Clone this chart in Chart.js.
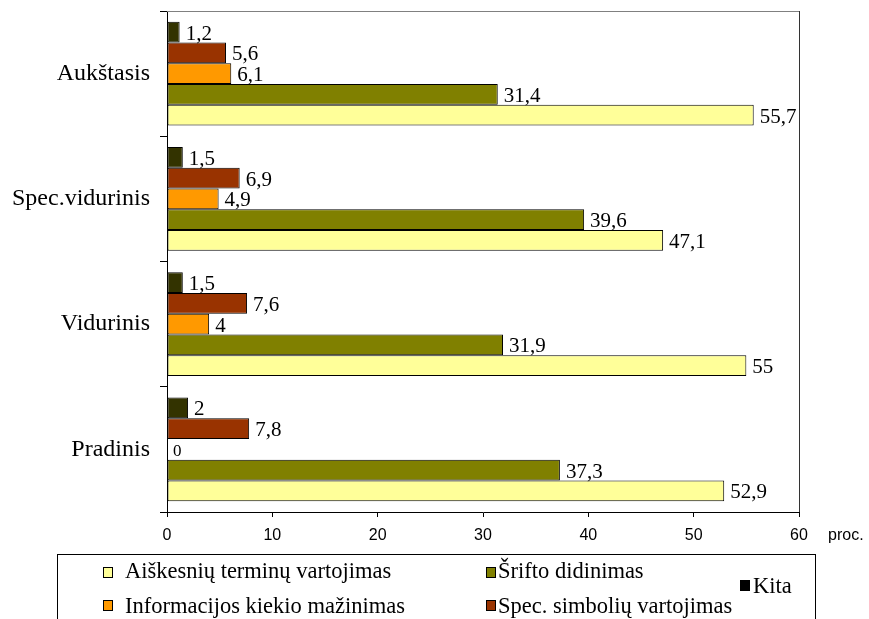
<!DOCTYPE html>
<html lang="lt">
<head>
<meta charset="utf-8">
<title>Pageidavimai pagal išsilavinimą</title>
<script src="https://cdn.jsdelivr.net/npm/chart.js@4.4.1/dist/chart.umd.min.js"></script>
<style>
  html, body { margin: 0; padding: 0; background: #fff; }
  #wrap { position: relative; width: 869px; height: 619px; overflow: hidden; }
  canvas { display: block; }
</style>
</head>
<body>
<div id="wrap"><canvas id="c" width="869" height="619"></canvas></div>
<script>
// Išsilavinimo grupės (iš viršaus į apačią)
const categories = ['Aukštasis', 'Spec.vidurinis', 'Vidurinis', 'Pradinis'];

// Serijų reikšmės, proc.
const kita         = [1.2, 1.5, 1.5, 2];
const specSimboliu = [5.6, 6.9, 7.6, 7.8];
const informacijos = [6.1, 4.9, 4, 0];
const srifto       = [31.4, 39.6, 31.9, 37.3];
const aiskesniu    = [55.7, 47.1, 55, 52.9];

// Serijų pavadinimai
const seriesNames = {
  kita: 'Kita',
  spec: 'Spec. simbolių vartojimas',
  info: 'Informacijos kiekio mažinimas',
  srifto: 'Šrifto didinimas',
  aisk: 'Aiškesnių terminų vartojimas'
};

// Ašies padalos
const xTicks = [0, 10, 20, 30, 40, 50, 60];
const axisUnit = 'proc.';

const colors = {
  kita: '#333300',
  spec: '#993300',
  info: '#FF9900',
  srifto: '#808000',
  aisk: '#FFFF99'
};

const serif = '"Liberation Serif", "Times New Roman", serif';
const sans = '"Liberation Sans", Arial, sans-serif';

function fmt(v) { return String(v).replace('.', ','); }

// Reikšmių užrašai prie juostų galų
const valueLabels = {
  id: 'valueLabels',
  afterDatasetsDraw(chart) {
    const ctx = chart.ctx;
    ctx.save();
    ctx.fillStyle = '#000';
    ctx.textAlign = 'left';
    ctx.textBaseline = 'middle';
    chart.data.datasets.forEach((ds, di) => {
      const meta = chart.getDatasetMeta(di);
      meta.data.forEach((el, i) => {
        const v = ds.data[i];
        ctx.font = (v === 0 ? '17px ' : '21px ') + serif;
        ctx.fillText(fmt(v), el.x + 6, el.y + 2);
      });
    });
    ctx.restore();
  }
};

// Diagramos rėmas (viršus ir dešinė), vienetų užrašas ir legenda
const frameAndLegend = {
  id: 'frameAndLegend',
  afterDraw(chart) {
    const ctx = chart.ctx;
    const a = chart.chartArea;
    ctx.save();
    ctx.lineWidth = 1;
    ctx.strokeStyle = '#808080';
    ctx.beginPath();
    ctx.moveTo(a.left, a.top + 0.5);
    ctx.lineTo(a.right, a.top + 0.5);
    ctx.stroke();
    ctx.strokeStyle = '#333';
    ctx.beginPath();
    ctx.moveTo(a.right + 0.5, a.top);
    ctx.lineTo(a.right + 0.5, a.bottom);
    ctx.stroke();

    // vienetai šalia x ašies
    ctx.fillStyle = '#000';
    ctx.font = '16px ' + sans;
    ctx.textAlign = 'left';
    ctx.textBaseline = 'middle';
    ctx.fillText(axisUnit, 828, 536);

    // legenda
    ctx.strokeStyle = '#000';
    ctx.strokeRect(57.5, 554.5, 758, 80);
    const items = [
      { name: seriesNames.aisk,   color: colors.aisk,   mx: 103, my: 567, tx: 125, ty: 578 },
      { name: seriesNames.srifto, color: colors.srifto, mx: 486, my: 567, tx: 498, ty: 578 },
      { name: seriesNames.info,   color: colors.info,   mx: 103, my: 600, tx: 125, ty: 613 },
      { name: seriesNames.spec,   color: colors.spec,   mx: 486, my: 600, tx: 498, ty: 613 },
      { name: seriesNames.kita,   color: '#000',        mx: 740, my: 580, tx: 753, ty: 593 }
    ];
    ctx.font = '22.5px ' + serif;
    ctx.textBaseline = 'alphabetic';
    items.forEach(it => {
      ctx.fillStyle = it.color;
      ctx.fillRect(it.mx, it.my, 10, 11);
      ctx.strokeStyle = '#000';
      ctx.strokeRect(it.mx + 0.5, it.my + 0.5, 9, 10);
      ctx.fillStyle = '#000';
      ctx.fillText(it.name, it.tx, it.ty);
    });
    ctx.restore();
  }
};

function ds(label, data, color) {
  return {
    label, data,
    backgroundColor: color,
    borderColor: '#000',
    borderWidth: 1,
    borderSkipped: false,
    barPercentage: 1,
    categoryPercentage: 0.83
  };
}

new Chart(document.getElementById('c'), {
  type: 'bar',
  data: {
    labels: categories,
    datasets: [
      ds(seriesNames.kita, kita, colors.kita),
      ds(seriesNames.spec, specSimboliu, colors.spec),
      ds(seriesNames.info, informacijos, colors.info),
      ds(seriesNames.srifto, srifto, colors.srifto),
      ds(seriesNames.aisk, aiskesniu, colors.aisk)
    ]
  },
  options: {
    indexAxis: 'y',
    responsive: false,
    animation: false,
    events: [],
    layout: { padding: { left: 0, right: 70, top: 11, bottom: 77 } },
    plugins: {
      legend: { display: false },
      tooltip: { enabled: false }
    },
    scales: {
      x: {
        min: xTicks[0],
        max: xTicks[xTicks.length - 1],
        afterBuildTicks(scale) { scale.ticks = xTicks.map(v => ({ value: v })); },
        afterFit(scale) {
          scale.height = 30;
          scale.paddingLeft = 0;
          scale.paddingRight = 0;
        },
        ticks: {
          color: '#000',
          padding: 9,
          font: { family: sans, size: 16 },
          callback: v => String(v)
        },
        grid: { drawOnChartArea: false, tickLength: 5, color: '#000', tickColor: '#000' },
        border: { color: '#000', width: 1 }
      },
      y: {
        afterFit(scale) {
          scale.width = 167;
          scale.paddingTop = 0;
          scale.paddingBottom = 0;
        },
        ticks: {
          color: '#000',
          padding: 10,
          font: { family: serif, size: 24 }
        },
        grid: { drawOnChartArea: false, tickLength: 7, offset: true, color: '#000', tickColor: '#000' },
        border: { color: '#000', width: 1 }
      }
    }
  },
  plugins: [valueLabels, frameAndLegend]
});
</script>
</body>
</html>
